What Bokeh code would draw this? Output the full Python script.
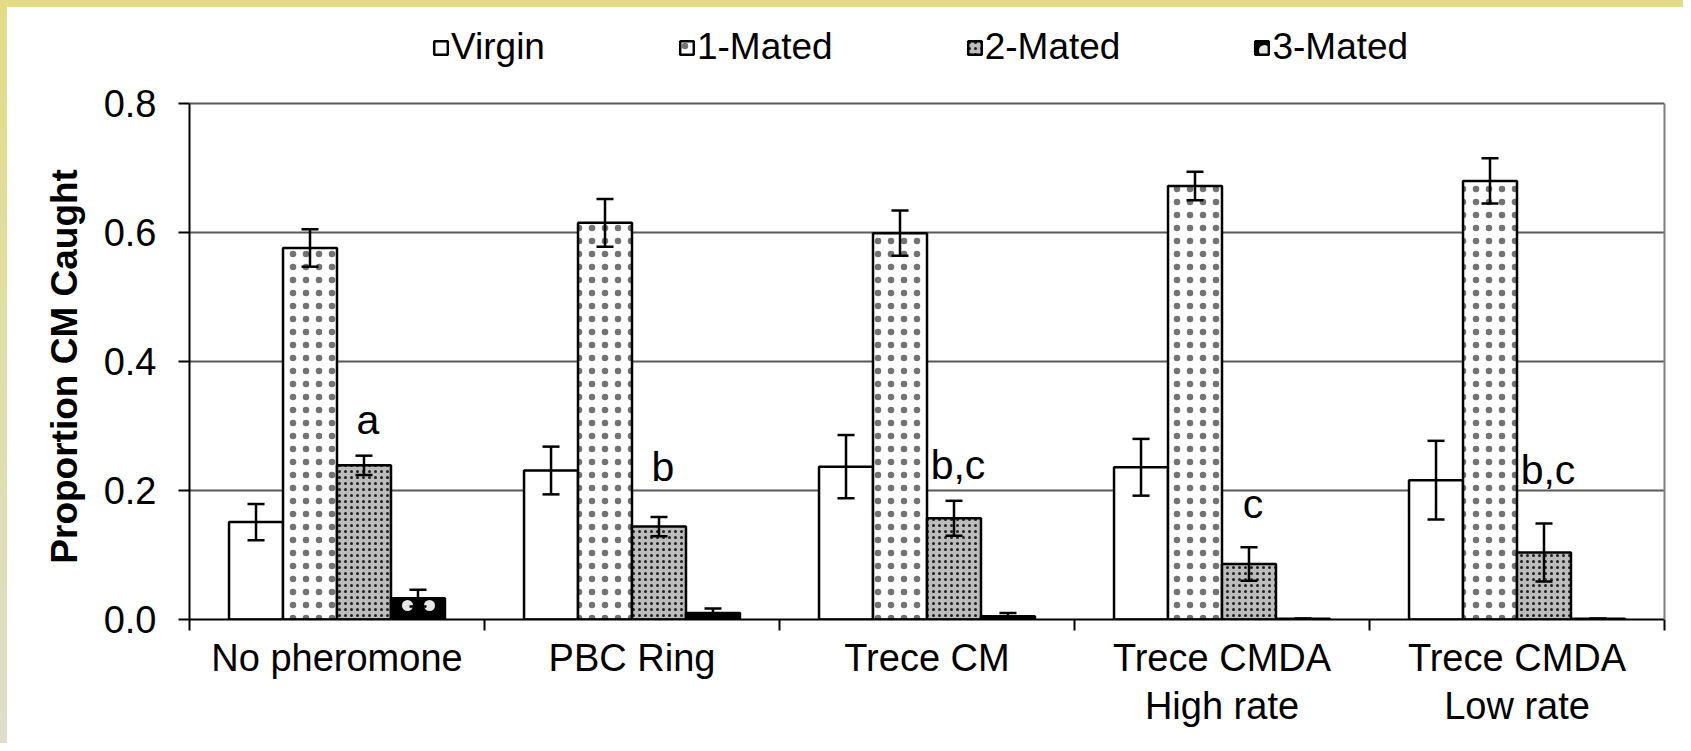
from bokeh.plotting import figure
from bokeh.models import (ColumnDataSource, Whisker, TeeHead, FixedTicker, LinearAxis,
                          Range1d, Legend, LegendItem, Grid)
from bokeh.core.properties import value
from bokeh.embed import file_html
from bokeh.resources import INLINE

# ---------------- data ----------------
categories = ["No pheromone", "PBC Ring", "Trece CM", "Trece CMDA\nHigh rate", "Trece CMDA\nLow rate"]
series = ["Virgin", "1-Mated", "2-Mated", "3-Mated"]
virgin = [0.151, 0.231, 0.237, 0.236, 0.216]
virgin_err = [0.028, 0.037, 0.049, 0.044, 0.061]
mated1 = [0.576, 0.615, 0.599, 0.672, 0.680]
mated1_err = [0.029, 0.037, 0.035, 0.022, 0.035]
mated2 = [0.239, 0.144, 0.157, 0.086, 0.104]
mated2_err = [0.015, 0.015, 0.027, 0.026, 0.045]
mated3 = [0.033, 0.010, 0.005, 0.001, 0.001]
mated3_err = [0.013, 0.007, 0.005, 0.0, 0.0]
letters = ["a", "b", "b,c", "c", "b,c"]
letter_y = [0.309, 0.237, 0.240, 0.179, 0.232]
y_ticks = [0.0, 0.2, 0.4, 0.6, 0.8]
y_tick_labels = ["0.0", "0.2", "0.4", "0.6", "0.8"]
y_title = "Proportion CM Caught"

FONT = "Liberation Sans"
values = [virgin, mated1, mated2, mated3]
errors = [virgin_err, mated1_err, mated2_err, mated3_err]

# ---------------- layout geometry (pixels) ----------------
W, H = 1683, 743
FRAME_L, FRAME_R, FRAME_B = 189, 1664, 619
AXIS_TOP = 103          # where 0.8 sits
FRAME_T = 10            # frame extended upward so the legend is not clipped
y_max = y_ticks[-1]
y_end = y_max * (FRAME_B - FRAME_T) / (FRAME_B - AXIS_TOP)

# ---------------- figure ----------------
frame_css = ("linear-gradient(#e2dd84, #e2dd84) left top / 100% 7px no-repeat, "
             "linear-gradient(to bottom, #e2dd84, #dedecb) left top / 7px 100% no-repeat, white")
p = figure(width=W, height=H, x_range=Range1d(0, len(categories)), y_range=Range1d(0, y_end),
           output_backend="svg", toolbar_location=None,
           x_axis_type=None, y_axis_type=None,
           min_border_left=FRAME_L, min_border_right=W - FRAME_R,
           min_border_top=FRAME_T, min_border_bottom=H - FRAME_B,
           styles={"background": frame_css})
p.border_fill_color = None
p.background_fill_color = None
p.outline_line_color = None

# y axis (title padded with no-break spaces so it is centred on the 0-0.8 span)
yax = LinearAxis(ticker=FixedTicker(ticks=y_ticks), bounds=(0, y_max),
                 major_label_overrides={t: l for t, l in zip(y_ticks, y_tick_labels)})
yax.axis_line_color = "black"
yax.axis_line_width = 2
yax.major_tick_line_color = "black"
yax.major_tick_line_width = 2
yax.major_tick_out = 11
yax.major_tick_in = 0
yax.minor_tick_line_color = None
yax.major_label_text_font = FONT
yax.major_label_text_font_size = "38px"
yax.major_label_text_color = "black"
yax.major_label_standoff = 22
yax.axis_label = y_title + "\u00a0" * 10
yax.axis_label_text_font = FONT
yax.axis_label_text_font_style = "bold"
yax.axis_label_text_font_size = "37px"
yax.axis_label_text_color = "black"
yax.axis_label_standoff = 16
p.add_layout(yax, "left")

# right border of the plot area (grey line only)
rax = LinearAxis(ticker=FixedTicker(ticks=[]), bounds=(0, y_max))
rax.axis_line_color = "#7f7f7f"
rax.axis_line_width = 2
rax.major_tick_line_color = None
rax.minor_tick_line_color = None
rax.major_label_text_font_size = "0px"
p.add_layout(rax, "right")

p.add_layout(Grid(dimension=1, ticker=yax.ticker, grid_line_color="#5a5a5a", grid_line_width=2))

# x axis: labels at category centres, ticks at boundaries (minor ticks)
centers = [i + 0.5 for i in range(len(categories))]
xax = LinearAxis(ticker=FixedTicker(ticks=centers, minor_ticks=list(range(len(categories) + 1))),
                 major_label_overrides={c: n for c, n in zip(centers, categories)})
xax.axis_line_color = "black"
xax.axis_line_width = 2
xax.major_tick_line_color = None
xax.major_tick_out = 0
xax.major_tick_in = 0
xax.minor_tick_line_color = "black"
xax.minor_tick_line_width = 2
xax.minor_tick_out = 11
xax.minor_tick_in = 0
xax.major_label_text_font = FONT
xax.major_label_text_font_size = "38px"
xax.major_label_text_color = "black"
xax.major_label_text_line_height = 1.15
xax.major_label_standoff = 6
p.add_layout(xax, "below")

# ---------------- bars ----------------
bw = 0.183
offsets = [-1.5 * bw, -0.5 * bw, 0.5 * bw, 1.5 * bw]
styles = [
    dict(fill_color="white"),
    dict(fill_color="white", hatch_pattern="dot", hatch_scale=13, hatch_weight=0.5,
         hatch_color="black", hatch_alpha=0.55),
    dict(fill_color="#bcbcbc", hatch_pattern="dot", hatch_scale=6, hatch_weight=0.8, hatch_color="#1e1e1e"),
    dict(fill_color="black", hatch_pattern="dot", hatch_scale=22, hatch_weight=0.5,
         hatch_color="white", hatch_alpha=0.9),
]
renderers = []
for k, name in enumerate(series):
    xs = [c + offsets[k] for c in centers]
    src = ColumnDataSource(dict(
        x=xs, top=values[k],
        upper=[v + e for v, e in zip(values[k], errors[k])],
        lower=[v - e for v, e in zip(values[k], errors[k])],
    ))
    r = p.vbar(x="x", top="top", bottom=0, width=bw, source=src,
               line_color="black", line_width=2.5, **styles[k])
    renderers.append(r)
    w = Whisker(source=src, base="x", upper="upper", lower="lower",
                line_color="black", line_width=2.5, level="annotation",
                upper_head=TeeHead(size=17, line_width=2.5, line_color="black"),
                lower_head=TeeHead(size=17, line_width=2.5, line_color="black"))
    p.add_layout(w)

# significance letters above the 2-Mated bars
lsrc = ColumnDataSource(dict(x=[c + offsets[2] for c in centers], y=letter_y, t=letters))
p.text(x="x", y="y", text="t", source=lsrc, text_align="center", text_baseline="alphabetic",
       x_offset=4, text_font=value(FONT), text_font_size="41px", text_color="black")

# ---------------- legend ----------------
legend = Legend(items=[LegendItem(label=s, renderers=[r]) for s, r in zip(series, renderers)],
                orientation="horizontal", location=(432 - FRAME_L, FRAME_B - 68),
                glyph_width=17, glyph_height=17, label_standoff=2, spacing=133,
                padding=0, margin=0, border_line_color=None, background_fill_alpha=0,
                label_text_font=FONT, label_text_font_size="37px", label_text_color="black")
p.add_layout(legend, "center")

open("out.html", "w").write(file_html(p, INLINE))
